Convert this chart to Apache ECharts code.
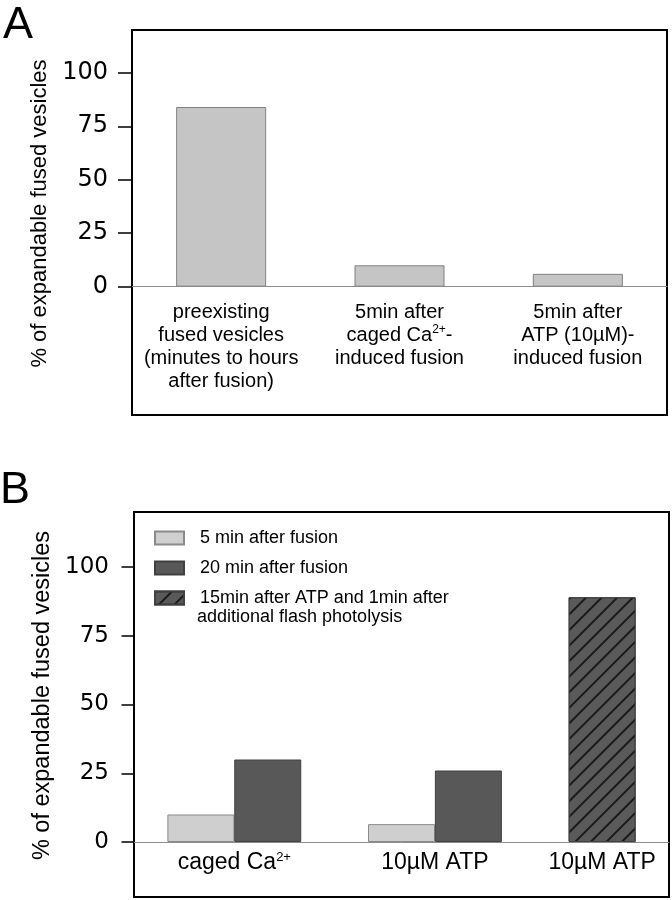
<!DOCTYPE html>
<html><head><meta charset="utf-8">
<script src="https://cdn.jsdelivr.net/npm/echarts@6/dist/echarts.min.js"></script>
<style>html,body{margin:0;padding:0;background:#fff}#c{width:672px;height:900px}</style>
</head><body><div id="c"></div>
<script>
// ---- Panel A data ----
const categoriesA = [
  'preexisting\nfused vesicles\n(minutes to hours\nafter fusion)',
  '5min after\ncaged Ca{sup|2+}-\ninduced fusion',
  '5min after\nATP (10µM)-\ninduced fusion'
];
const valuesA = [84, 10, 6];
const yTicks = [0, 25, 50, 75, 100];
const yTitle = '% of expandable fused vesicles';

// ---- Panel B data ----
const categoriesB = ['caged Ca{sup|2+}', '10µM ATP', '10µM ATP'];
const seriesNamesB = ['5 min after fusion', '20 min after fusion', '15min after ATP and 1min after\nadditional flash photolysis'];
const fiveMin = [10, 6.5, null];
const twentyMin = [30, 26, null];
const flashPhotolysis = [null, null, 89];

// ---- layout helpers (panel B: two slots per group + one gap slot) ----
const FONT = '"Liberation Sans", Arial, sans-serif';
const NUM_FONT = '"DejaVu Sans", Verdana, sans-serif';
const seriesB = [fiveMin, twentyMin, flashPhotolysis];
const slotOf = [0, 1, 0];
const SLOTS = 3;
const toX = (g, s) => SLOTS * g + s + 1;
const labelPosB = categoriesB.map((_, g) => {
  const xs = seriesB.map((arr, k) => arr[g] == null ? null : toX(g, slotOf[k])).filter(v => v != null);
  return xs.reduce((a, b) => a + b, 0) / xs.length;
});
const xMaxB = SLOTS * categoriesB.length - 1;

const sup = { fontSize: 12, lineHeight: 12, verticalAlign: 'top', fontFamily: FONT, color: '#000' };

const chart = echarts.init(document.getElementById('c'), null, { renderer: 'canvas', width: 672, height: 900 });

const hatch = { symbol: 'rect', symbolSize: 1, dashArrayX: [1, 0], dashArrayY: [1.5, 9], rotation: -Math.PI / 4, color: '#1a1a1a' };
const stylesB = [
  { color: '#cfcfcf', borderColor: '#8a8a8a', borderWidth: 1 },
  { color: '#585858', borderColor: '#404040', borderWidth: 1 },
  { color: '#5a5a5a', borderColor: '#404040', borderWidth: 1, decal: hatch }
];

function yAxisCfg(grid, min, max, tickLen, labelSize, margin, nameSize, nameGap) {
  return {
    gridIndex: grid, type: 'value', min: min, max: max,
    axisLine: { show: false }, splitLine: { show: false },
    axisTick: { show: true, customValues: yTicks, length: tickLen, lineStyle: { color: '#000', width: 1.5 } },
    axisLabel: { customValues: yTicks, margin: margin, fontSize: labelSize, fontFamily: NUM_FONT, color: '#000' },
    name: yTitle, nameLocation: 'middle', nameRotate: 90, nameGap: nameGap,
    nameTextStyle: { fontSize: nameSize, fontFamily: FONT, color: '#000', padding: [0, 0, 0, 18] }
  };
}

chart.setOption({
  animation: false,
  backgroundColor: '#fff',
  grid: [
    { left: 132, top: 30, width: 535, height: 385, show: true, borderColor: '#000', borderWidth: 2, backgroundColor: 'transparent', outerBoundsMode: 'none', containLabel: false },
    { left: 134, top: 512, width: 535, height: 385, show: true, borderColor: '#000', borderWidth: 2, backgroundColor: 'transparent', outerBoundsMode: 'none', containLabel: false }
  ],
  xAxis: [
    {
      gridIndex: 0, type: 'category', data: categoriesA,
      axisLine: { onZero: true, lineStyle: { color: '#8c8c8c', width: 1 } },
      axisTick: { show: false },
      axisLabel: { interval: 0, margin: -114, fontSize: 20, lineHeight: 23, fontFamily: FONT, color: '#000', rich: { sup: sup } }
    },
    {
      gridIndex: 1, type: 'value', min: 0, max: xMaxB,
      splitLine: { show: false },
      axisLine: { onZero: true, lineStyle: { color: '#8c8c8c', width: 1 } },
      axisTick: { show: false },
      axisLabel: {
        customValues: labelPosB, margin: -46, fontSize: 23, lineHeight: 24, fontFamily: FONT, color: '#000',
        formatter: v => { const i = labelPosB.findIndex(p => Math.abs(p - v) < 1e-6); return i < 0 ? '' : categoriesB[i]; },
        rich: { sup: Object.assign({}, sup, { fontSize: 13, lineHeight: 13 }) }
      }
    }
  ],
  yAxis: [
    yAxisCfg(0, -60, 120, 14, 24, 24, 22, 70),
    yAxisCfg(1, -20, 120, 12.5, 23, 25, 23.5, 78)
  ],
  legend: {
    show: true, orient: 'vertical', left: 154, top: 528, padding: 0,
    icon: 'rect', itemWidth: 29, itemHeight: 13, itemGap: 10,
    selectedMode: false,
    textStyle: { fontSize: 18, lineHeight: 20, fontFamily: FONT, color: '#000', padding: [0, 0, 0, 11] },
    formatter: name => name.split('\n')[0],
    data: seriesNamesB
  },
  graphic: [
    { type: 'text', left: 3, top: 3, style: { text: 'A', fontSize: 45, fontFamily: FONT, fill: '#000' } },
    { type: 'text', left: 0, top: 468, style: { text: 'B', fontSize: 45, fontFamily: FONT, fill: '#000' } },
    { type: 'text', x: 197, y: 617, style: { text: seriesNamesB[2].split('\n')[1], fontSize: 18, fontFamily: FONT, fill: '#000', verticalAlign: 'middle' } }
  ],
  series: [
    {
      name: 'panelA', type: 'bar', xAxisIndex: 0, yAxisIndex: 0, data: valuesA, barWidth: 90,
      itemStyle: { color: '#c5c5c5', borderColor: '#808080', borderWidth: 1 }
    }
  ].concat(seriesB.map((arr, k) => ({
    name: seriesNamesB[k], type: 'bar', xAxisIndex: 1, yAxisIndex: 1,
    barWidth: 67, barGap: '-100%',
    data: arr.map((v, g) => v == null ? null : [toX(g, slotOf[k]), v]).filter(d => d),
    itemStyle: stylesB[k]
  })))
});
</script>
</body></html>
